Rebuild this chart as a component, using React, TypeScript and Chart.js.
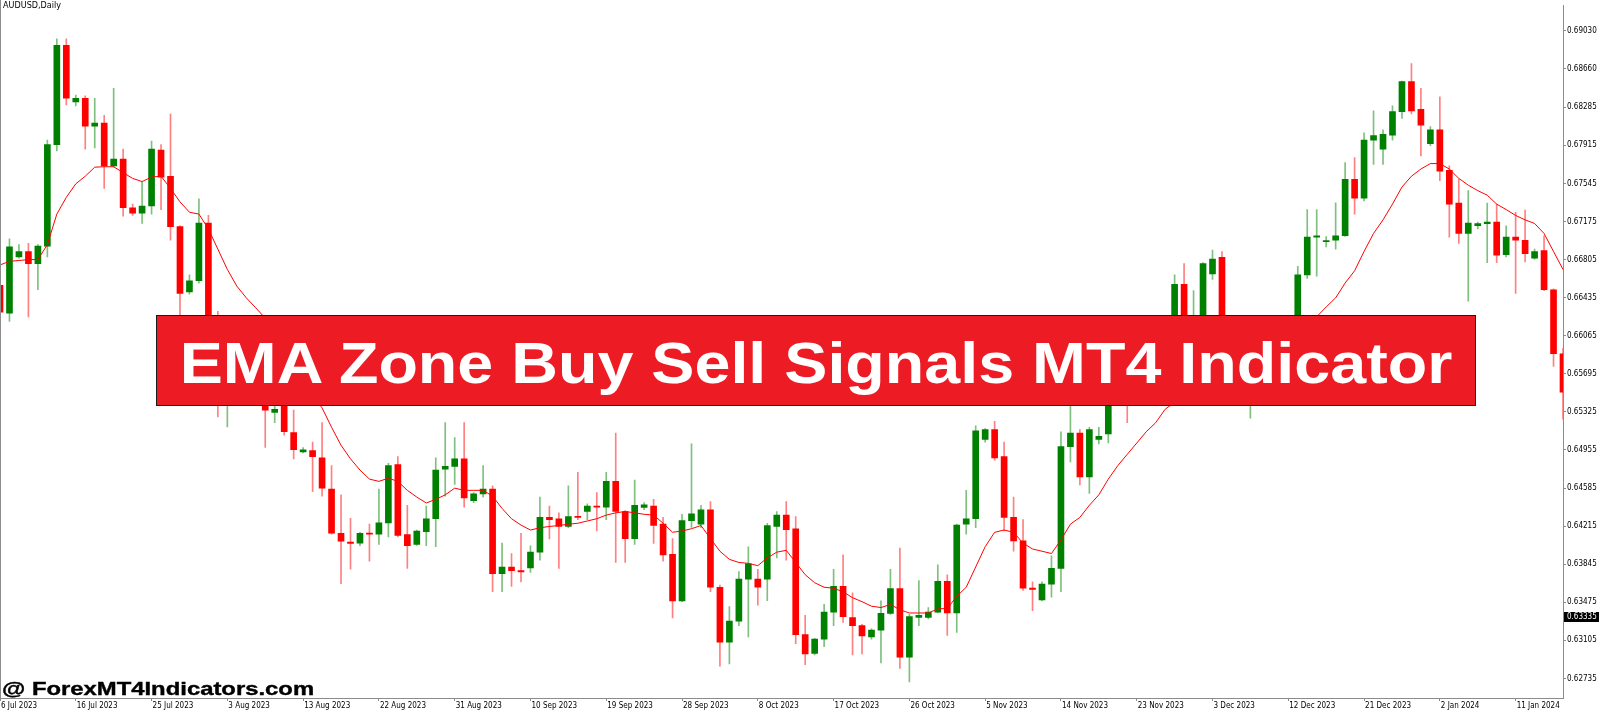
import { useEffect, useRef } from "react";
import { Chart, registerables } from "chart.js";

Chart.register(...registerables);

// x axis: one bar per trading day, a date label every 8 bars
const dateLabels = [
  "6 Jul 2023", "16 Jul 2023", "25 Jul 2023", "3 Aug 2023", "13 Aug 2023", "22 Aug 2023",
  "31 Aug 2023", "10 Sep 2023", "19 Sep 2023", "28 Sep 2023", "8 Oct 2023", "17 Oct 2023",
  "26 Oct 2023", "5 Nov 2023", "14 Nov 2023", "23 Nov 2023", "3 Dec 2023", "12 Dec 2023",
  "21 Dec 2023", "2 Jan 2024", "11 Jan 2024",
];
const labelEvery = 8;

// right price axis
const priceTicks = [
  0.6903, 0.6866, 0.68285, 0.67915, 0.67545, 0.67175, 0.66805, 0.66435, 0.66065,
  0.65695, 0.65325, 0.64955, 0.64585, 0.64215, 0.63845, 0.63475, 0.63105, 0.62735,
];
const priceMin = 0.62545;
const priceMax = 0.69271;
const currentPrice = 0.63335;

// AUDUSD daily candles
const opens = [
  0.66555, 0.66284, 0.66831, 0.66884, 0.66766, 0.66936, 0.67922, 0.68886, 0.68338, 0.68373,
  0.68102, 0.68132, 0.67716, 0.67782, 0.67309, 0.67256, 0.67326, 0.67869, 0.67615, 0.67125,
  0.6649, 0.66599, 0.6716, 0.6612, 0.6565, 0.6595, 0.657, 0.6585, 0.6545, 0.6532,
  0.654, 0.65123, 0.64935, 0.64948, 0.64878, 0.64576, 0.64146, 0.64059, 0.6405, 0.64146,
  0.64138, 0.64247, 0.64812, 0.64133, 0.64037, 0.6416, 0.64287, 0.64768, 0.64795, 0.64869,
  0.64462, 0.64528, 0.64576, 0.63752, 0.63818, 0.63783, 0.63809, 0.63962, 0.643, 0.64287,
  0.64212, 0.64309, 0.64357, 0.64409, 0.644, 0.6465, 0.64357, 0.64094, 0.64396, 0.64409,
  0.64234, 0.63941, 0.63489, 0.64269, 0.64234, 0.64374, 0.63621, 0.63087, 0.63292, 0.637,
  0.637, 0.637, 0.64212, 0.64322, 0.6419, 0.63161, 0.62977, 0.63117, 0.6338, 0.6363,
  0.63327, 0.63249, 0.63139, 0.63205, 0.63367, 0.63608, 0.62942, 0.63327, 0.63327, 0.6338,
  0.63678, 0.63371, 0.64234, 0.64287, 0.65058, 0.65154, 0.64891, 0.643, 0.64072, 0.63612,
  0.63498, 0.63652, 0.63805, 0.64987, 0.65119, 0.64694, 0.65058, 0.6511, 0.6545, 0.659,
  0.656, 0.6585, 0.6605, 0.659, 0.661, 0.66564, 0.6615, 0.6623, 0.66665, 0.66827,
  0.662, 0.659, 0.657, 0.6595, 0.658, 0.66, 0.6605, 0.6615, 0.66656, 0.67024,
  0.6698, 0.66993, 0.67037, 0.67585, 0.67401, 0.67966, 0.67878, 0.68014, 0.68242, 0.68535,
  0.68264, 0.67931, 0.68067, 0.67672, 0.67353, 0.67059, 0.67134, 0.67155, 0.67169, 0.66853,
  0.67024, 0.66993, 0.66818, 0.66893, 0.66512, 0.6589,
];
const highs = [
  0.66884, 0.67007, 0.6695, 0.66963, 0.6695, 0.67966, 0.68951, 0.68951, 0.68404, 0.68395,
  0.68373, 0.68207, 0.68469, 0.67878, 0.67344, 0.67563, 0.67957, 0.67922, 0.6822, 0.67134,
  0.66656, 0.67396, 0.67234, 0.66301, 0.661, 0.6605, 0.66, 0.6595, 0.656, 0.655,
  0.6555, 0.65342, 0.64979, 0.65031, 0.6522, 0.64803, 0.64519, 0.64291, 0.64155, 0.64234,
  0.64576, 0.64825, 0.64891, 0.64418, 0.64177, 0.64409, 0.64878, 0.6522, 0.65075, 0.6522,
  0.64541, 0.64803, 0.64606, 0.6405, 0.63949, 0.64146, 0.64024, 0.64497, 0.64409, 0.64344,
  0.64606, 0.64738, 0.64431, 0.64541, 0.64738, 0.65119, 0.64365, 0.64663, 0.64444, 0.64475,
  0.643, 0.64094, 0.6433, 0.65014, 0.64418, 0.64453, 0.63643, 0.63433, 0.63774, 0.64015,
  0.63796, 0.64243, 0.64357, 0.64453, 0.64309, 0.63349, 0.63126, 0.63455, 0.63796, 0.63936,
  0.63568, 0.63262, 0.63218, 0.63489, 0.63796, 0.64002, 0.63358, 0.63687, 0.63424, 0.6384,
  0.63743, 0.64234, 0.64563, 0.65189, 0.65163, 0.65233, 0.65031, 0.64497, 0.64278, 0.63673,
  0.63673, 0.63927, 0.65132, 0.6545, 0.65154, 0.65176, 0.65176, 0.656, 0.66, 0.6605,
  0.6595, 0.6615, 0.662, 0.662, 0.66656, 0.66766, 0.66503, 0.66775, 0.66897, 0.66884,
  0.6624, 0.66, 0.661, 0.6605, 0.661, 0.6615, 0.662, 0.6674, 0.67291, 0.67291,
  0.67029, 0.67357, 0.67747, 0.67795, 0.68036, 0.6825, 0.68067, 0.68299, 0.6854, 0.6871,
  0.68469, 0.68097, 0.68386, 0.67716, 0.67585, 0.67475, 0.67169, 0.67353, 0.67344, 0.67134,
  0.67265, 0.67287, 0.66906, 0.67037, 0.6652, 0.65942,
];
const lows = [
  0.66008, 0.66205, 0.66818, 0.66249, 0.66512, 0.66831, 0.67861, 0.68307, 0.68299, 0.67878,
  0.67891, 0.67497, 0.67703, 0.67226, 0.67234, 0.67156, 0.67247, 0.67291, 0.66993, 0.662,
  0.66468, 0.66577, 0.6608, 0.65276, 0.6518, 0.655, 0.6555, 0.654, 0.64979, 0.6522,
  0.651, 0.64869, 0.64926, 0.64549, 0.64506, 0.64138, 0.63656, 0.63796, 0.64024, 0.63875,
  0.64037, 0.64111, 0.64111, 0.63805, 0.64028, 0.64024, 0.64015, 0.64506, 0.6462, 0.644,
  0.64444, 0.64497, 0.63577, 0.63577, 0.6363, 0.63673, 0.63765, 0.63884, 0.6409, 0.63805,
  0.64199, 0.64278, 0.64278, 0.64168, 0.64278, 0.63862, 0.63862, 0.64037, 0.64374, 0.64046,
  0.63875, 0.63323, 0.63481, 0.64203, 0.64199, 0.63577, 0.62854, 0.62876, 0.63249, 0.63139,
  0.63446, 0.6349, 0.63906, 0.63884, 0.63073, 0.62868, 0.62964, 0.63043, 0.63249, 0.63279,
  0.62964, 0.62973, 0.63117, 0.62885, 0.63358, 0.62832, 0.62701, 0.63249, 0.63314, 0.63371,
  0.63152, 0.63183, 0.64138, 0.64199, 0.65031, 0.64856, 0.64168, 0.63971, 0.6359, 0.63393,
  0.63489, 0.63524, 0.63577, 0.64838, 0.64615, 0.64532, 0.65014, 0.65023, 0.654, 0.6522,
  0.655, 0.6575, 0.658, 0.6585, 0.66, 0.6605, 0.66, 0.6615, 0.66612, 0.661,
  0.658, 0.656, 0.65263, 0.657, 0.6575, 0.659, 0.6595, 0.661, 0.66621, 0.66643,
  0.66928, 0.66906, 0.67029, 0.67247, 0.67374, 0.67729, 0.67729, 0.67966, 0.68176, 0.6822,
  0.67812, 0.67913, 0.67572, 0.67024, 0.66963, 0.66402, 0.67103, 0.66774, 0.66774, 0.66831,
  0.66477, 0.66783, 0.66809, 0.66503, 0.65767, 0.65255,
];
const closes = [
  0.66293, 0.66928, 0.66884, 0.66766, 0.66936, 0.67922, 0.68886, 0.68373, 0.68373, 0.68102,
  0.68132, 0.67716, 0.67782, 0.67309, 0.67256, 0.67326, 0.67878, 0.67607, 0.67125, 0.66477,
  0.66599, 0.6716, 0.6615, 0.656, 0.6595, 0.657, 0.6585, 0.655, 0.65342, 0.65351,
  0.65132, 0.64957, 0.64957, 0.64891, 0.64584, 0.64146, 0.64068, 0.64046, 0.64146, 0.64138,
  0.64247, 0.64803, 0.64125, 0.64024, 0.64168, 0.64287, 0.6476, 0.64795, 0.64869, 0.64488,
  0.64528, 0.64576, 0.63752, 0.63818, 0.63783, 0.6377, 0.63962, 0.643, 0.64278, 0.64212,
  0.64309, 0.643, 0.64409, 0.644, 0.6465, 0.64357, 0.64094, 0.64418, 0.64422, 0.64221,
  0.63936, 0.63489, 0.64269, 0.64335, 0.64374, 0.63621, 0.63087, 0.63292, 0.637, 0.63849,
  0.63621, 0.64221, 0.64322, 0.64181, 0.63161, 0.62973, 0.63117, 0.6338, 0.6363, 0.63336,
  0.63249, 0.63148, 0.63205, 0.63367, 0.63608, 0.62942, 0.63336, 0.63349, 0.6338, 0.63678,
  0.63371, 0.64225, 0.64287, 0.65141, 0.65154, 0.64878, 0.643, 0.64072, 0.63612, 0.63599,
  0.63652, 0.63805, 0.64987, 0.65119, 0.64694, 0.65154, 0.65088, 0.6545, 0.659, 0.656,
  0.6585, 0.6605, 0.659, 0.661, 0.66564, 0.6615, 0.6623, 0.66766, 0.6681, 0.662,
  0.659, 0.657, 0.6595, 0.658, 0.66, 0.6605, 0.6615, 0.66656, 0.67024, 0.67037,
  0.66985, 0.67037, 0.67585, 0.67401, 0.67966, 0.6801, 0.68023, 0.68242, 0.68535, 0.6825,
  0.6811, 0.68067, 0.67664, 0.67344, 0.67059, 0.6716, 0.67155, 0.67169, 0.66849, 0.67024,
  0.66993, 0.66862, 0.66884, 0.66512, 0.6589, 0.65517,
];

// EMA line
const emaValues = [
  0.66753, 0.66788, 0.66796, 0.66805, 0.66805, 0.6695, 0.67247, 0.6741, 0.67541, 0.67615,
  0.67703, 0.67707, 0.67707, 0.6765, 0.67594, 0.67563, 0.67607, 0.67615, 0.67497, 0.67366,
  0.67265, 0.67247, 0.67103, 0.66906, 0.66709, 0.66547, 0.66433, 0.66336, 0.66236, 0.66074,
  0.6592, 0.65767, 0.65614, 0.65482, 0.65364, 0.65176, 0.65001, 0.64869, 0.6476, 0.64672,
  0.6465, 0.64681, 0.6465, 0.64563, 0.64497, 0.6444, 0.64475, 0.64519, 0.64584, 0.64563,
  0.64563, 0.64563, 0.64506, 0.64387, 0.64287, 0.64225, 0.64177, 0.64199, 0.64212, 0.64221,
  0.64234, 0.64243, 0.64265, 0.64287, 0.64322, 0.64344, 0.64357, 0.64344, 0.6433, 0.64322,
  0.64243, 0.64155, 0.64168, 0.6419, 0.64221, 0.64094, 0.63971, 0.63892, 0.63862, 0.63853,
  0.63831, 0.63906, 0.63962, 0.6398, 0.63862, 0.63743, 0.63665, 0.63621, 0.63612, 0.63577,
  0.6352, 0.63481, 0.63437, 0.63424, 0.63454, 0.63402, 0.63371, 0.63371, 0.63371, 0.63411,
  0.63415, 0.63533, 0.63621, 0.63818, 0.64015, 0.64155, 0.64177, 0.64155, 0.6405, 0.63993,
  0.63971, 0.63949, 0.64081, 0.64234, 0.643, 0.64418, 0.64519, 0.64672, 0.64803, 0.64913,
  0.65022, 0.65132, 0.6522, 0.65351, 0.65417, 0.65478, 0.65539, 0.65601, 0.65662, 0.65714,
  0.65767, 0.6582, 0.65872, 0.65925, 0.65977, 0.6603, 0.66087, 0.66144, 0.66196, 0.66249,
  0.66345, 0.66433, 0.66577, 0.66696, 0.66884, 0.67059, 0.67191, 0.67344, 0.6751, 0.67615,
  0.67685, 0.67738, 0.67738, 0.67685, 0.67594, 0.67528, 0.67475, 0.67431, 0.67344, 0.67291,
  0.67234, 0.67191, 0.67156, 0.67059, 0.66884, 0.66709,
];

const axisFont = { family: "'DejaVu Sans Condensed', 'DejaVu Sans', sans-serif", size: 8 };

const mt4Extras = {
  id: "mt4Extras",
  afterDraw(chart: Chart) {
    const { ctx, chartArea, scales } = chart;
    const y = scales.y.getPixelForValue(currentPrice);
    ctx.save();
    // left frame line
    ctx.strokeStyle = "#8c8c8c";
    ctx.lineWidth = 1;
    ctx.beginPath();
    ctx.moveTo(0.5, 0);
    ctx.lineTo(0.5, chartArea.bottom);
    ctx.stroke();
    // current price tag
    ctx.fillStyle = "#000";
    ctx.fillRect(chartArea.right + 1, Math.round(y) - 5, 35, 10);
    ctx.fillStyle = "#fff";
    ctx.font = `${axisFont.size}px ${axisFont.family}`;
    ctx.textBaseline = "middle";
    ctx.textAlign = "left";
    ctx.fillText(currentPrice.toFixed(5), chartArea.right + 4, Math.round(y));
    ctx.restore();
  },
};

export default function App() {
  const canvasRef = useRef<HTMLCanvasElement>(null);
  const chartRef = useRef<Chart | null>(null);

  useEffect(() => {
    document.body.style.margin = "0";
    document.body.style.overflow = "hidden";
    if (!canvasRef.current) return;
    if (chartRef.current) chartRef.current.destroy();

    const up = closes.map((c, i) => c >= opens[i]);
    const bodyColors = up.map((u) => (u ? "#008000" : "#ff0000"));
    const wickColors = up.map((u) => (u ? "#7fbf7f" : "#ff8080"));

    chartRef.current = new Chart(canvasRef.current, {
      type: "bar",
      data: {
        labels: opens.map((_, i) => String(i)),
        datasets: [
          {
            type: "line",
            label: "EMA",
            data: emaValues,
            borderColor: "#ff0000",
            borderWidth: 1,
            pointRadius: 0,
            tension: 0,
            order: 0,
          },
          {
            label: "body",
            data: opens.map((o, i) => [o, closes[i]]),
            backgroundColor: bodyColors,
            barThickness: 6,
            minBarLength: 1,
            grouped: false,
            order: 1,
          },
          {
            label: "wick",
            data: lows.map((l, i) => [l, highs[i]]),
            backgroundColor: wickColors,
            barThickness: 1,
            grouped: false,
            order: 2,
          },
        ] as any,
      },
      options: {
        animation: false,
        responsive: false,
        layout: { padding: 0 },
        plugins: { legend: { display: false }, tooltip: { enabled: false } },
        scales: {
          x: {
            type: "category",
            offset: false,
            grid: { offset: false, drawOnChartArea: false, drawTicks: true, tickLength: 3, color: "#8c8c8c" },
            border: { display: true, color: "#8c8c8c", width: 1 },
            ticks: {
              autoSkip: false,
              maxRotation: 0,
              minRotation: 0,
              align: "start",
              labelOffset: 1,
              padding: 0,
              color: "#000",
              font: axisFont,
              callback: (_v: any, index: number) =>
                index % labelEvery === 0 ? dateLabels[index / labelEvery] ?? null : null,
            },
            afterFit: (scale: any) => {
              scale.height = 15;
            },
          },
          y: {
            position: "right",
            min: priceMin,
            max: priceMax,
            afterBuildTicks: (scale: any) => {
              scale.ticks = priceTicks.map((value) => ({ value }));
            },
            afterFit: (scale: any) => {
              scale.width = 37;
            },
            grid: { drawOnChartArea: false, drawTicks: true, tickLength: 3, color: "#8c8c8c" },
            border: { display: true, color: "#8c8c8c", width: 1 },
            ticks: {
              padding: 1,
              color: "#000",
              font: axisFont,
              callback: (v: any) => Number(v).toFixed(5),
            },
          },
        },
      },
      plugins: [mt4Extras],
    });

    return () => {
      if (chartRef.current) {
        chartRef.current.destroy();
        chartRef.current = null;
      }
    };
  }, []);

  return (
    <div
      style={{
        position: "absolute",
        left: 0,
        top: 0,
        width: 1600,
        height: 713,
        background: "#fff",
        overflow: "hidden",
      }}
    >
      <canvas ref={canvasRef} width={1600} height={713} style={{ display: "block" }} />
      <div
        style={{
          position: "absolute",
          left: 3,
          top: 1,
          fontFamily: "'DejaVu Sans Condensed', 'DejaVu Sans', sans-serif",
          fontSize: 9,
          lineHeight: 1,
          color: "#000",
          whiteSpace: "nowrap",
        }}
      >
        AUDUSD,Daily
      </div>
      <div
        style={{
          position: "absolute",
          left: 156,
          top: 315,
          width: 1320,
          height: 91,
          boxSizing: "border-box",
          background: "#ed1c24",
          border: "1px solid #1a1a1a",
        }}
      />
      <div
        style={{
          position: "absolute",
          left: 156,
          top: 335,
          width: 1320,
          textAlign: "center",
          fontFamily: "'Liberation Sans', Arial, sans-serif",
          fontWeight: 700,
          fontSize: 57,
          lineHeight: 1,
          color: "#fff",
          whiteSpace: "nowrap",
          transform: "scaleX(1.134)",
          transformOrigin: "center",
        }}
      >
        EMA Zone Buy Sell Signals MT4 Indicator
      </div>
      <div
        style={{
          position: "absolute",
          left: 2,
          top: 679,
          fontFamily: "'Liberation Sans', Arial, sans-serif",
          fontWeight: 700,
          fontSize: 19,
          lineHeight: 1,
          color: "#000",
          whiteSpace: "nowrap",
          transform: "scaleX(1.255)",
          transformOrigin: "left",
          WebkitTextStroke: "0.4px #000",
        }}
      >
        @ ForexMT4Indicators.com
      </div>
    </div>
  );
}
